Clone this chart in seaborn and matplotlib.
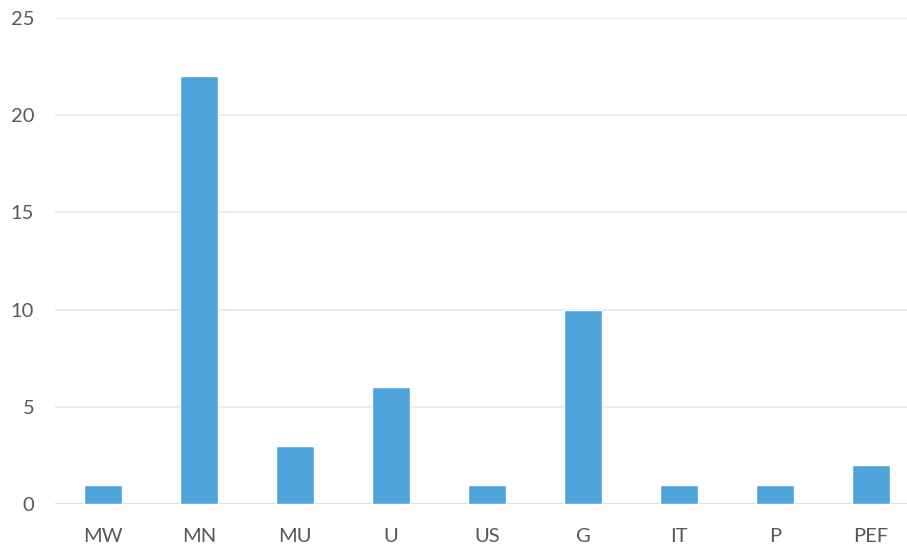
import matplotlib
matplotlib.use("Agg")
import matplotlib.pyplot as plt
import seaborn as sns
import pandas as pd

categories = ["MW", "MN", "MU", "U", "US", "G", "IT", "P", "PEF"]
counts = [1, 22, 3, 6, 1, 10, 1, 1, 2]
y_ticks = [0, 5, 10, 15, 20, 25]

df = pd.DataFrame({"cat": categories, "count": counts})

sns.set_style("white")
plt.rcParams["font.family"] = ["Lato", "DejaVu Sans"]

fig = plt.figure(figsize=(9.07, 5.47), dpi=100)
ax = fig.add_axes([55 / 907, 43 / 547, 852 / 907, 486 / 547])

sns.barplot(data=df, x="cat", y="count", color="#4FA3DB", saturation=1,
            width=0.4, ax=ax, zorder=3)

ax.set_ylim(0, 25)
ax.set_xlim(-0.5, 8.375)
ax.set_yticks(y_ticks)
ax.grid(axis="y", color="#e3e9f0", linewidth=1.2, zorder=0)
ax.axhline(0, color="#dcdcdc", linewidth=1.2, zorder=1)
for s in ax.spines.values():
    s.set_visible(False)
ax.tick_params(axis="both", length=0, labelsize=14.5, labelcolor="#595959")
ax.tick_params(axis="y", pad=15)
ax.tick_params(axis="x", pad=17)
ax.set_xlabel("")
ax.set_ylabel("")

fig.savefig("out.png", dpi=100)
